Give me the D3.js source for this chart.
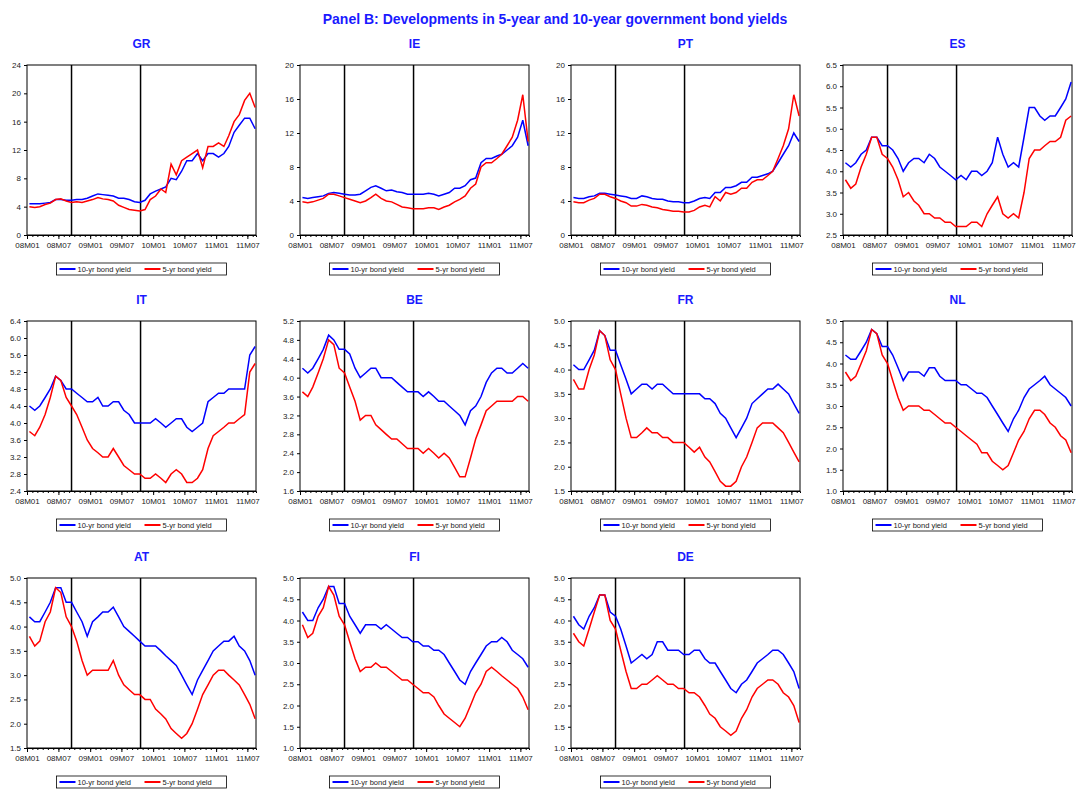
<!DOCTYPE html>
<html><head><meta charset="utf-8">
<script src="https://cdn.jsdelivr.net/npm/d3@7"></script>
<style>body{margin:0;background:#fff;font-family:Arial,"Liberation Sans",sans-serif}</style>
</head><body><svg id="c" width="1082" height="789"></svg>
<script>
const countries=["GR","IE","PT","ES","IT","BE","FR","NL","AT","FI","DE"];
const xTickLabels=["08M01","08M07","09M01","09M07","10M01","10M07","11M01","11M07"];
const yDomains={GR:[0,24,4],IE:[0,20,4],PT:[0,20,4],ES:[2.5,6.5,0.5],IT:[2.4,6.4,0.4],BE:[1.6,5.2,0.4],FR:[1.5,5.0,0.5],NL:[1.0,5.0,0.5],AT:[1.5,5.0,0.5],FI:[1.0,5.0,0.5],DE:[1.0,5.0,0.5]};
const y10={
GR:[4.4,4.4,4.4,4.5,4.6,5.0,5.0,4.9,4.9,5.0,5.0,5.2,5.5,5.8,5.7,5.6,5.5,5.2,5.2,5.0,4.7,4.6,4.9,5.8,6.2,6.5,6.8,8.0,7.8,9.0,10.5,10.5,11.5,10.5,11.5,11.5,11.0,11.5,12.5,14.5,15.5,16.5,16.5,15.0],
IE:[4.4,4.3,4.4,4.5,4.6,4.9,5.0,4.9,4.8,4.7,4.7,4.8,5.2,5.6,5.8,5.5,5.2,5.3,5.1,5.0,4.8,4.8,4.8,4.8,4.9,4.8,4.6,4.8,5.0,5.5,5.5,5.8,6.5,6.7,8.5,9.0,9.0,9.3,9.5,10.0,10.5,11.5,13.5,10.5],
PT:[4.4,4.3,4.3,4.5,4.6,4.9,4.9,4.8,4.7,4.6,4.5,4.3,4.3,4.6,4.5,4.3,4.2,4.2,4.0,3.9,3.9,3.8,3.8,4.0,4.3,4.4,4.3,5.0,5.0,5.6,5.6,5.8,6.2,6.2,6.8,6.8,7.0,7.2,7.5,8.5,9.5,10.5,12.0,11.0],
ES:[4.2,4.1,4.2,4.4,4.5,4.8,4.8,4.6,4.6,4.5,4.3,4.0,4.2,4.3,4.3,4.2,4.4,4.3,4.1,4.0,3.9,3.8,3.9,3.8,4.0,4.0,3.9,4.0,4.2,4.8,4.4,4.1,4.2,4.1,4.8,5.5,5.5,5.3,5.2,5.3,5.3,5.5,5.7,6.1],
IT:[4.4,4.3,4.4,4.6,4.8,5.1,5.0,4.8,4.8,4.7,4.6,4.5,4.5,4.6,4.4,4.4,4.5,4.5,4.3,4.2,4.0,4.0,4.0,4.0,4.1,4.0,3.9,4.0,4.1,4.1,3.9,3.8,3.9,4.0,4.5,4.6,4.7,4.7,4.8,4.8,4.8,4.8,5.6,5.8],
BE:[4.2,4.1,4.2,4.4,4.6,4.9,4.8,4.6,4.6,4.5,4.2,4.0,4.1,4.2,4.2,4.0,4.0,4.0,3.9,3.8,3.7,3.7,3.7,3.6,3.7,3.6,3.5,3.5,3.4,3.3,3.2,3.0,3.3,3.4,3.6,3.9,4.1,4.2,4.2,4.1,4.1,4.2,4.3,4.2],
FR:[4.1,4.0,4.0,4.2,4.4,4.8,4.7,4.4,4.4,4.1,3.8,3.5,3.6,3.7,3.7,3.6,3.7,3.7,3.6,3.5,3.5,3.5,3.5,3.5,3.5,3.4,3.4,3.3,3.1,3.0,2.8,2.6,2.8,3.0,3.3,3.4,3.5,3.6,3.6,3.7,3.6,3.5,3.3,3.1],
NL:[4.2,4.1,4.1,4.3,4.5,4.8,4.7,4.4,4.4,4.2,3.9,3.6,3.8,3.8,3.8,3.7,3.9,3.9,3.7,3.6,3.6,3.6,3.5,3.5,3.4,3.3,3.3,3.2,3.0,2.8,2.6,2.4,2.7,2.9,3.2,3.4,3.5,3.6,3.7,3.5,3.4,3.3,3.2,3.0],
AT:[4.2,4.1,4.1,4.3,4.5,4.8,4.8,4.5,4.5,4.3,4.1,3.8,4.1,4.2,4.3,4.3,4.4,4.2,4.0,3.9,3.8,3.7,3.6,3.6,3.6,3.5,3.4,3.3,3.2,3.0,2.8,2.6,2.9,3.1,3.3,3.5,3.6,3.7,3.7,3.8,3.6,3.5,3.3,3.0],
FI:[4.2,4.0,4.0,4.3,4.5,4.8,4.8,4.4,4.4,4.1,3.9,3.7,3.9,3.9,3.9,3.8,3.9,3.8,3.7,3.6,3.6,3.5,3.5,3.4,3.4,3.3,3.3,3.2,3.0,2.8,2.6,2.5,2.8,3.0,3.2,3.4,3.5,3.5,3.6,3.5,3.3,3.2,3.1,2.9],
DE:[4.1,3.9,3.8,4.1,4.3,4.6,4.6,4.2,4.1,3.8,3.4,3.0,3.1,3.2,3.1,3.2,3.5,3.5,3.3,3.3,3.3,3.2,3.2,3.3,3.3,3.1,3.0,3.0,2.8,2.6,2.4,2.3,2.5,2.6,2.8,3.0,3.1,3.2,3.3,3.3,3.2,3.0,2.8,2.4]};
const y5={
GR:[4.0,3.9,4.0,4.3,4.5,5.0,5.1,4.8,4.6,4.7,4.6,4.8,5.0,5.3,5.1,5.0,4.8,4.2,3.9,3.6,3.5,3.4,3.6,5.0,5.5,6.5,6.0,10.0,8.5,10.5,11.0,11.5,12.0,9.5,12.5,12.5,13.0,12.5,14.0,16.0,17.0,19.0,20.0,18.0],
IE:[3.9,3.8,3.9,4.1,4.3,4.8,4.8,4.6,4.4,4.2,4.0,3.8,4.0,4.4,4.8,4.3,4.0,3.9,3.6,3.3,3.2,3.1,3.1,3.1,3.2,3.2,3.0,3.3,3.5,3.9,4.2,4.6,5.5,6.0,8.0,8.5,8.5,9.0,9.5,10.5,11.5,13.5,16.5,11.0],
PT:[3.9,3.8,3.8,4.1,4.3,4.8,4.8,4.5,4.3,4.0,3.8,3.4,3.4,3.6,3.5,3.3,3.2,3.0,2.9,2.8,2.8,2.7,2.7,2.9,3.3,3.5,3.3,4.5,4.0,5.0,4.8,5.0,5.5,5.5,6.2,6.5,6.5,7.0,7.5,9.0,10.5,12.5,16.5,14.0],
ES:[3.8,3.6,3.7,4.1,4.4,4.8,4.8,4.4,4.3,4.1,3.8,3.4,3.5,3.3,3.2,3.0,3.0,2.9,2.9,2.8,2.8,2.7,2.7,2.7,2.8,2.8,2.7,3.0,3.2,3.4,3.0,2.9,3.0,2.9,3.5,4.3,4.5,4.5,4.6,4.7,4.7,4.8,5.2,5.3],
IT:[3.8,3.7,3.9,4.2,4.6,5.1,5.0,4.6,4.4,4.2,3.9,3.6,3.4,3.3,3.2,3.2,3.4,3.2,3.0,2.9,2.8,2.8,2.7,2.7,2.8,2.7,2.6,2.8,2.9,2.8,2.6,2.6,2.7,2.9,3.4,3.7,3.8,3.9,4.0,4.0,4.1,4.2,5.2,5.4],
BE:[3.7,3.6,3.8,4.1,4.4,4.8,4.7,4.2,4.1,3.8,3.5,3.1,3.2,3.2,3.0,2.9,2.8,2.7,2.7,2.6,2.5,2.5,2.5,2.4,2.5,2.4,2.3,2.4,2.3,2.1,1.9,1.9,2.3,2.7,3.0,3.3,3.4,3.5,3.5,3.5,3.5,3.6,3.6,3.5],
FR:[3.8,3.6,3.6,4.0,4.3,4.8,4.7,4.2,4.0,3.5,3.0,2.6,2.6,2.7,2.8,2.7,2.7,2.6,2.6,2.5,2.5,2.5,2.4,2.3,2.4,2.2,2.1,1.9,1.7,1.6,1.6,1.7,2.0,2.2,2.5,2.8,2.9,2.9,2.9,2.8,2.7,2.5,2.3,2.1],
NL:[3.8,3.6,3.7,4.0,4.3,4.8,4.7,4.2,4.0,3.6,3.2,2.9,3.0,3.0,3.0,2.9,2.9,2.8,2.7,2.6,2.6,2.5,2.4,2.3,2.2,2.1,1.9,1.9,1.7,1.6,1.5,1.6,1.9,2.2,2.4,2.7,2.9,2.9,2.8,2.6,2.5,2.3,2.2,1.9],
AT:[3.8,3.6,3.7,4.1,4.3,4.8,4.7,4.2,4.0,3.7,3.3,3.0,3.1,3.1,3.1,3.1,3.3,3.0,2.8,2.7,2.6,2.6,2.5,2.5,2.3,2.2,2.1,1.9,1.8,1.7,1.8,2.0,2.3,2.6,2.8,3.0,3.1,3.1,3.0,2.9,2.8,2.6,2.4,2.1],
FI:[3.9,3.6,3.7,4.1,4.3,4.8,4.6,4.1,3.9,3.5,3.1,2.8,2.9,2.9,3.0,2.9,2.9,2.8,2.7,2.6,2.6,2.5,2.4,2.3,2.3,2.2,2.0,1.8,1.7,1.6,1.5,1.7,2.0,2.3,2.5,2.8,2.9,2.8,2.7,2.6,2.5,2.4,2.2,1.9],
DE:[3.7,3.5,3.4,3.8,4.2,4.6,4.6,4.0,3.8,3.3,2.8,2.4,2.4,2.5,2.5,2.6,2.7,2.6,2.5,2.5,2.4,2.4,2.3,2.3,2.2,2.0,1.8,1.7,1.5,1.4,1.3,1.4,1.7,1.9,2.2,2.4,2.5,2.6,2.6,2.5,2.3,2.2,2.0,1.6]};
const eventDates=["2008-09-15","2009-10-20"];

const svg=d3.select("#c");
svg.append("text").attr("x",555).attr("y",24).attr("text-anchor","middle").attr("fill","#1a1aff")
 .attr("font-size",14).attr("font-weight","bold").text("Panel B: Developments in 5-year and 10-year government bond yields");
const colX=[27,300,571,843], rowY=[65,321,578], W=229, H=170;
const dates=y10.GR.map((_,i)=>new Date(2008,i,15));
const x=d3.scaleTime().domain([new Date(2008,0,1),new Date(2011,7,20)]).range([0,W]);
const tickDates=xTickLabels.map(s=>new Date(2000+ +s.slice(0,2), +s.slice(3)-1,1));
countries.forEach((c,k)=>{
  const g=svg.append("g").attr("transform",`translate(${colX[k%4]},${rowY[Math.floor(k/4)]})`);
  const [lo,hi,st]=yDomains[c];
  const y=d3.scaleLinear().domain([lo,hi]).range([H,0]);
  g.append("text").attr("x",W/2).attr("y",-17).attr("text-anchor","middle").attr("fill","#1a1aff")
   .attr("font-weight","bold").attr("font-size",12).text(c);
  const ticks=d3.range(lo,hi+st/2,st);
  const ya=g.append("g").call(d3.axisLeft(y).tickValues(ticks).tickSize(3).tickFormat(st<1?d3.format(".1f"):d3.format("d")));
  const xa=g.append("g").attr("transform",`translate(0,${H})`).call(d3.axisBottom(x).tickValues(tickDates).tickSize(4).tickFormat((d,i)=>xTickLabels[i]));
  g.append("g").attr("transform",`translate(0,${H})`).call(d3.axisBottom(x).ticks(d3.timeMonth.every(1)).tickSize(2).tickFormat(""));
  [ya,xa].forEach(a=>{a.selectAll("text").attr("font-size",8).attr("fill","#222").attr("font-family","Arial,Liberation Sans");a.select(".domain").remove();});
  g.append("rect").attr("width",W).attr("height",H).attr("fill","none").attr("stroke","#000");
  eventDates.forEach(d=>{const xx=x(new Date(d));g.append("line").attr("x1",xx).attr("x2",xx).attr("y1",0).attr("y2",H).attr("stroke","#000").attr("stroke-width",1.5);});
  const line=d3.line().x((d,i)=>x(dates[i])).y(d=>y(d));
  g.append("path").datum(y10[c]).attr("d",line).attr("fill","none").attr("stroke","#0000ff").attr("stroke-width",1.5);
  g.append("path").datum(y5[c]).attr("d",line).attr("fill","none").attr("stroke","#ff0000").attr("stroke-width",1.5);
  const lg=g.append("g").attr("transform",`translate(${W/2-85},${H+28})`);
  lg.append("rect").attr("width",170).attr("height",12).attr("fill","none").attr("stroke","#000").attr("stroke-width",0.8);
  [["#0000ff","10-yr bond yield",3],["#ff0000","5-yr bond yield",88]].forEach(([col,t,ox])=>{
    lg.append("line").attr("x1",ox).attr("x2",ox+16).attr("y1",6).attr("y2",6).attr("stroke",col).attr("stroke-width",2);
    lg.append("text").attr("x",ox+18).attr("y",9).attr("font-size",7.5).attr("fill","#222").text(t);
  });
});
</script></body></html>
